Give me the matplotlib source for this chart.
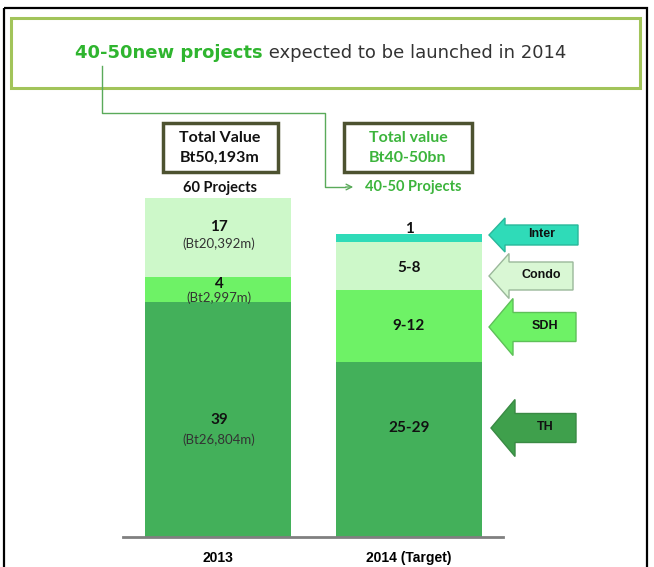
import matplotlib.pyplot as plt
from matplotlib.patches import Rectangle, Polygon
import numpy as np

# --- data (segment heights as share of the 2013 bar)
years = ['2013', '2014 (Target)']
segments = ['TH', 'SDH', 'Condo', 'Inter']
seg_heights = {
    'TH':    [69.3, 51.6],
    'SDH':   [7.4, 21.2],
    'Condo': [23.3, 14.2],
    'Inter': [0.0, 2.4],
}
seg_colors = {'TH': '#43b05a', 'SDH': '#6ef266', 'Condo': '#cdf8c9', 'Inter': '#2fdbb8'}
labels_2013 = ['39', '4', '17']
values_2013 = ['(Bt26,804m)', '(Bt2,997m)', '(Bt20,392m)']
labels_2014 = ['25-29', '9-12', '5-8', '1']

W, H = 654, 567
fig = plt.figure(figsize=(W / 100, H / 100), dpi=100)

# bar axes placed in pixel layout
x0, x1, ybase, ytop = 123, 503, 537, 198
ax = fig.add_axes([x0 / W, (H - ybase) / H, (x1 - x0) / W, (ybase - ytop) / H])
pos = np.arange(len(years))
bottom = np.zeros(len(years))
for s in segments:
    h = np.array(seg_heights[s])
    ax.bar(pos, h, bottom=bottom, width=0.766, color=seg_colors[s], edgecolor='none')
    bottom += h
ax.set_xlim(-0.5, 1.495)
ax.set_ylim(0, 100)
for sp in ['top', 'left', 'right']:
    ax.spines[sp].set_visible(False)
ax.spines['bottom'].set_color('#808080')
ax.spines['bottom'].set_linewidth(2)
ax.set_yticks([])
ax.set_xticks(pos)
ax.set_xticklabels(years, fontfamily='Liberation Sans', fontweight='bold', fontsize=10)
ax.tick_params(axis='x', length=0, pad=10)

# overlay axes in pixel coordinates for annotations
ov = fig.add_axes([0, 0, 1, 1])
ov.set_xlim(0, W)
ov.set_ylim(H, 0)
ov.axis('off')
ov.patch.set_alpha(0)

# outer black frame and green title box
ov.add_patch(Rectangle((4, 8), 643, 570, fill=False, ec='black', lw=1.6))
ov.add_patch(Rectangle((11, 18), 629, 70, fill=False, ec='#a2c45a', lw=2.2))

green = '#2fb52f'
t1 = ov.text(75, 53, '40-50new projects', color=green, fontsize=13,
             fontfamily='DejaVu Sans', fontweight='bold', va='center', ha='left')
ov.annotate(' expected to be launched in 2014', xy=(1, 0.5), xycoords=t1,
            va='center', ha='left', fontsize=13, fontfamily='DejaVu Sans', color='#333333')

# connector line with arrow
ov.plot([102, 102, 325, 325, 345], [66, 113, 113, 187, 187], color='#5aaa5a', lw=1)
ov.annotate('', xy=(356, 187), xytext=(343, 187),
            arrowprops=dict(arrowstyle='->', color='#5aaa5a', lw=1))

# total value boxes
box_ec = '#4d5230'
ov.add_patch(Rectangle((163, 123), 115, 49, fill=False, ec=box_ec, lw=2.5))
ov.add_patch(Rectangle((344, 123), 128, 49, fill=False, ec=box_ec, lw=2.5))
cal = ['Lato', 'DejaVu Sans']
ov.text(220, 138, 'Total Value', ha='center', va='center', fontsize=11.5,
        fontweight='bold', family=cal, color='#111111')
ov.text(220, 158, 'Bt50,193m', ha='center', va='center', fontsize=11.5,
        fontweight='bold', family=cal, color='#111111')
ov.text(408, 138, 'Total value', ha='center', va='center', fontsize=11.5,
        fontweight='bold', family=cal, color='#3cb43c')
ov.text(408, 158, 'Bt40-50bn', ha='center', va='center', fontsize=11.5,
        fontweight='bold', family=cal, color='#3cb43c')
ov.text(220, 188, '60 Projects', ha='center', va='center', fontsize=10.5,
        fontweight='bold', family=cal, color='#111111')
ov.text(413, 187, '40-50 Projects', ha='center', va='center', fontsize=10.5,
        fontweight='bold', family=cal, color='#3cb43c')

# bar labels
for lab, val, (yl, yv) in zip(labels_2013, values_2013, [(420, 440), (284, 298), (227, 244)]):
    ov.text(219, yl, lab, ha='center', va='center', fontsize=11, fontweight='bold',
            family=cal, color='#111111')
    ov.text(219, yv, val, ha='center', va='center', fontsize=9.5, family=cal, color='#333333')
for lab, yl in zip(labels_2014, [428, 326, 268, 229]):
    ov.text(409, yl, lab, ha='center', va='center', fontsize=11, fontweight='bold',
            family=cal, color='#111111')

# side arrows (legend)
def left_arrow(tip_x, cy, body_x0, body_x1, body_h, head_h, fc, ec):
    pts = [(tip_x, cy), (body_x0, cy - head_h / 2), (body_x0, cy - body_h / 2),
           (body_x1, cy - body_h / 2), (body_x1, cy + body_h / 2),
           (body_x0, cy + body_h / 2), (body_x0, cy + head_h / 2)]
    ov.add_patch(Polygon(pts, closed=True, fc=fc, ec=ec, lw=1))

arrows = [
    ('Inter', 489, 235, 505, 578, 20, 34, seg_colors['Inter'], '#28b89a'),
    ('Condo', 489, 276, 509, 573, 28, 45, '#d9f7d4', '#9ab89a'),
    ('SDH', 489, 327, 513, 576, 29, 57, seg_colors['SDH'], '#5ec058'),
    ('TH', 491, 428, 515, 576, 29, 57, '#3fa04c', '#3a8a44'),
]
for name, tx, cy, b0, b1, bh, hh, fc, ec in arrows:
    left_arrow(tx, cy, b0, b1, bh, hh, fc, ec)
    ov.text((b0 + b1) / 2, cy - 1, name, ha='center', va='center', fontsize=9,
            fontweight='bold', family='Liberation Sans', color='#111111')

fig.savefig('out.png', dpi=100)
